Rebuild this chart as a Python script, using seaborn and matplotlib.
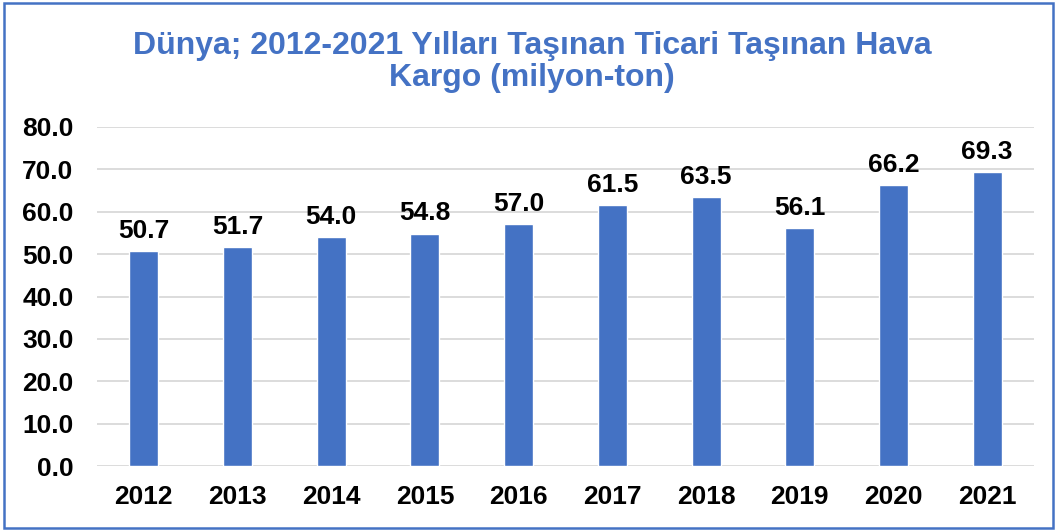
import matplotlib
matplotlib.use("Agg")
import matplotlib.pyplot as plt
import seaborn as sns
import pandas as pd
from matplotlib.patches import Rectangle

years = ["2012", "2013", "2014", "2015", "2016", "2017", "2018", "2019", "2020", "2021"]
values = [50.7, 51.7, 54.0, 54.8, 57.0, 61.5, 63.5, 56.1, 66.2, 69.3]
yticks = [0, 10, 20, 30, 40, 50, 60, 70, 80]
title = "Dünya; 2012-2021 Yılları Taşınan Ticari Taşınan Hava\nKargo (milyon-ton)"

sns.set_theme(style="white")
plt.rcParams['font.family'] = ['Liberation Sans', 'DejaVu Sans']

blue = "#4472C4"
df = pd.DataFrame({"year": years, "value": values})

fig = plt.figure(figsize=(10.58, 5.31), dpi=100)
ax = fig.add_axes([97/1058, 1 - 466/531, (1034 - 97)/1058, (466 - 127)/531])

sns.barplot(data=df, x="year", y="value", color=blue, width=0.31, saturation=1, ax=ax, zorder=3)

ax.set_ylim(0, 80)
ax.set_xlim(-0.5, len(years) - 0.5)
ax.set_yticks(yticks)
ax.set_yticklabels([f"{v:.1f}" for v in yticks])
ax.yaxis.grid(True, color="#d9d9d9", linewidth=1.3, zorder=0)
ax.set_axisbelow(True)
for s in ax.spines.values():
    s.set_visible(False)
ax.set_xlabel("")
ax.set_ylabel("")
ax.tick_params(axis="y", length=0, pad=17, labelsize=19)
ax.tick_params(axis="x", length=0, pad=14, labelsize=19)
for lbl in ax.get_xticklabels() + ax.get_yticklabels():
    lbl.set_fontweight("bold")
    lbl.set_color("black")

for c in ax.containers:
    ax.bar_label(c, labels=[f"{v:.1f}" for v in values], padding=6,
                 fontsize=19, fontweight="bold", color="black")

fig.text(0.503, 1 - 62/531, title, ha="center", va="center", fontsize=23,
         fontweight="bold", color=blue, linespacing=1.12)

fig.patches.append(Rectangle((4/1058, 3/531), 1049/1058, 525/531, transform=fig.transFigure,
                             fill=False, edgecolor=blue, linewidth=1.8))

fig.savefig("out.png", dpi=100)
